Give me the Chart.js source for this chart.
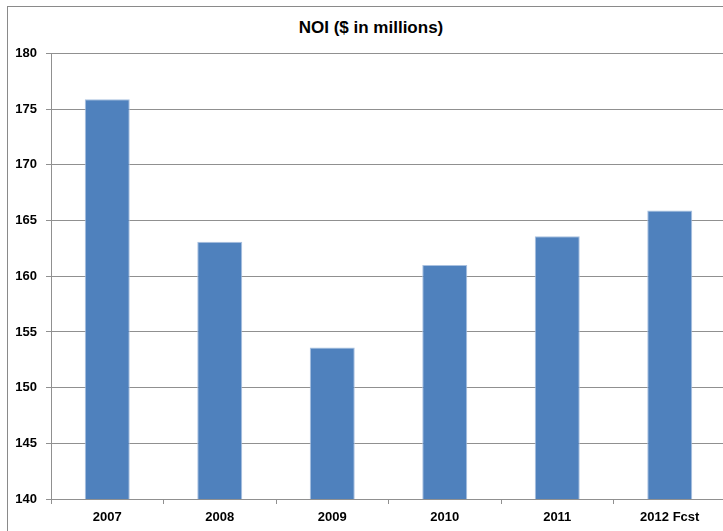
<!DOCTYPE html>
<html>
<head>
<meta charset="utf-8">
<script src="https://cdn.jsdelivr.net/npm/chart.js@4/dist/chart.umd.min.js"></script>
<style>
  html, body { margin: 0; padding: 0; background: #fff; overflow: hidden; }
  #wrap { position: relative; width: 723px; height: 531px; overflow: hidden; }
  #frame { position: absolute; left: 7px; top: 6px; width: 800px; height: 600px;
           border-left: 1px solid #8a8a8a; border-top: 1px solid #8a8a8a; }
  #title { position: absolute; left: 0; top: 18px; width: 742px; text-align: center;
           font: bold 17px/20px 'Liberation Sans', Arial, sans-serif; color: #000; }
  #c { position: absolute; left: 0; top: 0; }
</style>
</head>
<body>
<div id="wrap">
  <div id="frame"></div>
  <div id="title">NOI ($ in millions)</div>
  <canvas id="c" width="740" height="531" style="width:740px;height:531px"></canvas>
</div>
<script>
// NOI by year
const years = ['2007', '2008', '2009', '2010', '2011', '2012 Fcst'];
const noi = [175.9, 163.1, 153.6, 161.0, 163.6, 165.9];
const yTicks = [140, 145, 150, 155, 160, 165, 170, 175, 180];

const FONT = "'Liberation Sans', Arial, sans-serif";
const GRID = '#909090';

const ctx = document.getElementById('c');
new Chart(ctx, {
  type: 'bar',
  data: {
    labels: years,
    datasets: [{
      label: 'NOI',
      data: noi,
      backgroundColor: '#4f81bd',
      borderColor: '#a9c1e0',
      borderWidth: 1,
      barPercentage: 0.4,
      categoryPercentage: 1.0
    }]
  },
  options: {
    responsive: false,
    animation: false,
    // title is the html div above, so leave room for it here
    layout: { padding: { left: 0, right: 14, top: 53.5, bottom: 0 } },
    plugins: {
      legend: { display: false },
      tooltip: { enabled: false },
      title: { display: false }
    },
    scales: {
      x: {
        offset: true,
        grid: {
          drawOnChartArea: false, drawTicks: true, tickLength: 5, offset: true,
          color: c => (c.index >= years.length ? 'rgba(0,0,0,0)' : GRID)
        },
        border: { display: true, color: GRID },
        ticks: { color: '#000', font: { family: FONT, size: 13, weight: 'bold' }, padding: 6, maxRotation: 0 },
        afterFit: s => { s.height = 32; }
      },
      y: {
        min: 140,
        max: 180,
        afterBuildTicks: s => { s.ticks = yTicks.map(v => ({ value: v })); },
        grid: { color: GRID, tickLength: 5, drawTicks: true },
        border: { display: true, color: GRID },
        ticks: { color: '#000', font: { family: FONT, size: 13, weight: 'bold' }, padding: 9 },
        afterFit: s => { s.width = 51; }
      }
    }
  }
});
</script>
</body>
</html>
